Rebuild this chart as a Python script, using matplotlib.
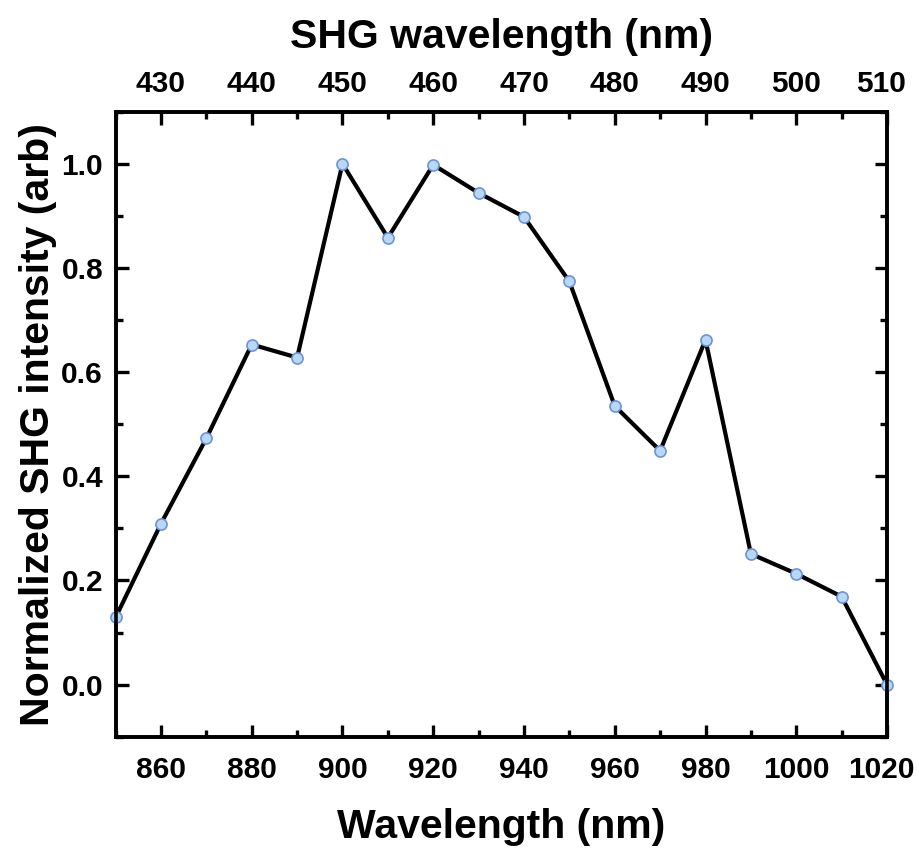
import matplotlib.pyplot as plt
from matplotlib.ticker import MultipleLocator
from matplotlib.transforms import ScaledTranslation

wavelength = [850, 860, 870, 880, 890, 900, 910, 920, 930, 940,
              950, 960, 970, 980, 990, 1000, 1010, 1020]
intensity = [0.129, 0.309, 0.473, 0.653, 0.628, 1.0, 0.858, 0.998, 0.944, 0.898,
             0.774, 0.535, 0.449, 0.662, 0.251, 0.213, 0.169, 0.0]

plt.rcParams['font.family'] = ['Liberation Sans', 'DejaVu Sans']
plt.rcParams['font.weight'] = 'bold'

fig = plt.figure(figsize=(9.19, 8.48), dpi=100)
ax = fig.add_axes([0.1258, 0.1312, 0.8394, 0.7371])

ax.plot(wavelength, intensity, color='black', linewidth=3, zorder=2)
ax.plot(wavelength, intensity, linestyle='none', marker='o', markersize=8,
        markerfacecolor='#b9d8f7', markeredgecolor='#6a94d8', markeredgewidth=1.2,
        zorder=3, clip_on=False)

xmin, xmax = 850, 1020
ax.set_xlim(xmin, xmax)
ax.set_ylim(-0.1, 1.1)
ax.xaxis.set_major_locator(MultipleLocator(20))
ax.xaxis.set_minor_locator(MultipleLocator(10))
ax.yaxis.set_major_locator(MultipleLocator(0.2))
ax.yaxis.set_minor_locator(MultipleLocator(0.1))
ax.yaxis.set_major_formatter(plt.FormatStrFormatter('%.1f'))

for s in ax.spines.values():
    s.set_linewidth(2.6)

ax.tick_params(which='major', direction='in', length=9, width=2.4, labelsize=21.5)
ax.tick_params(which='minor', direction='in', length=5, width=2.4)
ax.tick_params(axis='x', which='both', top=False, bottom=True, pad=14)
ax.tick_params(axis='y', which='both', left=True, right=True, pad=9)

# top axis: SHG wavelength is half the fundamental wavelength
top = ax.twiny()
top.set_xlim(xmin / 2, xmax / 2)
top.xaxis.set_major_locator(MultipleLocator(10))
top.xaxis.set_minor_locator(MultipleLocator(5))
top.tick_params(which='major', direction='in', length=9, width=2.4, labelsize=21.5, pad=10)
top.tick_params(which='minor', direction='in', length=5, width=2.4)
for s in top.spines.values():
    s.set_linewidth(2.6)
top.set_xlabel('SHG wavelength (nm)', fontsize=29.5, fontweight='bold', labelpad=16)

ax.set_xlabel('Wavelength (nm)', fontsize=29.5, fontweight='bold', labelpad=17)
ax.set_ylabel('Normalized SHG intensity (arb)', fontsize=29.5, fontweight='bold', labelpad=3)

# nudge the right-most tick labels so they stay inside the figure
fig.canvas.draw()
for axis, label_text, dx in ((ax.xaxis, '1020', 4), (top.xaxis, '510', 4)):
    for lab in axis.get_ticklabels():
        if lab.get_text() == label_text:
            lab.set_transform(lab.get_transform()
                              + ScaledTranslation(-dx / 72, 0, fig.dpi_scale_trans))

fig.savefig('out.png', dpi=100)
